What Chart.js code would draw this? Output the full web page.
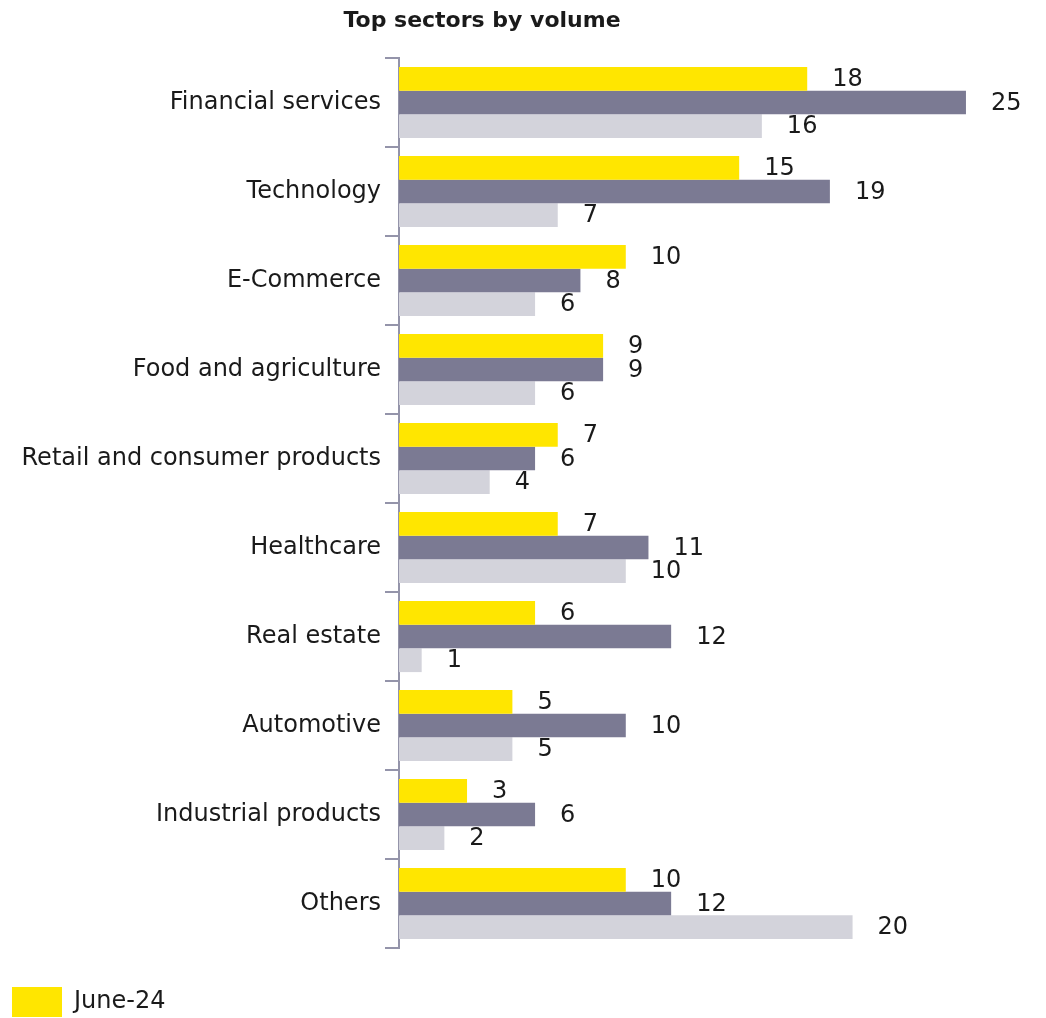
<!DOCTYPE html>
<html>
<head>
<meta charset="utf-8">
<script src="https://cdn.jsdelivr.net/npm/chart.js@4/dist/chart.umd.min.js"></script>
<style>
  body { margin: 0; background: #fff; }
  canvas { display: block; }
</style>
</head>
<body>
<canvas id="barChart" width="1046" height="1018"></canvas>
<script>
// Datos del gráfico
const sectors = [
  "Financial services", "Technology", "E-Commerce", "Food and agriculture",
  "Retail and consumer products", "Healthcare", "Real estate", "Automotive",
  "Industrial products", "Others"
];
const june24 = [18, 15, 10, 9, 7, 7, 6, 5, 3, 10];
const dec23 = [25, 19, 8, 9, 6, 11, 12, 10, 6, 12];
const june23 = [16, 7, 6, 6, 4, 10, 1, 5, 2, 20];
const seriesNames = ["June-24", "Dec-23", "June-23"];
const chartTitle = "Top sectors by volume";

const FONT = "'DejaVu Sans', sans-serif";
const TEXT = "#1a1a1a";
const AXIS = "#9494aa";

// Etiquetas de valor al final de cada barra
const valueLabels = {
  id: "valueLabels",
  afterDatasetsDraw(chart) {
    const { ctx } = chart;
    ctx.save();
    ctx.font = "24px " + FONT;
    ctx.fillStyle = TEXT;
    ctx.textAlign = "left";
    ctx.textBaseline = "middle";
    chart.data.datasets.forEach((ds, i) => {
      chart.getDatasetMeta(i).data.forEach((bar, j) => {
        ctx.fillText(ds.data[j], bar.x + 25, bar.y + 1);
      });
    });
    ctx.restore();
  }
};

// Título (alineado como en el original, no centrado en el lienzo)
const titleText = {
  id: "titleText",
  afterDraw(chart) {
    const { ctx } = chart;
    ctx.save();
    ctx.font = "bold 22px " + FONT;
    ctx.fillStyle = TEXT;
    ctx.textAlign = "center";
    ctx.textBaseline = "middle";
    ctx.fillText(chartTitle, 482, 21);
    ctx.restore();
  }
};

// Altura fija de la leyenda para dejar el hueco bajo el eje
const legendHeight = {
  id: "legendHeight",
  beforeInit(chart) {
    const fit = chart.legend.fit;
    chart.legend.fit = function () {
      fit.call(this);
      this.height = 43;
    };
  }
};

new Chart(document.getElementById("barChart"), {
  type: "bar",
  data: {
    labels: sectors,
    datasets: [
      { label: seriesNames[0], data: june24, backgroundColor: "#FFE600" },
      { label: seriesNames[1], data: dec23, backgroundColor: "#7B7A93" },
      { label: seriesNames[2], data: june23, backgroundColor: "#D3D3DB" }
    ]
  },
  options: {
    indexAxis: "y",
    responsive: false,
    animation: false,
    layout: { padding: { top: 58, right: 12, left: 0, bottom: 0 } },
    datasets: { bar: { categoryPercentage: 0.8, barPercentage: 1 } },
    plugins: {
      legend: {
        position: "bottom",
        align: "start",
        labels: {
          boxWidth: 50,
          boxHeight: 30,
          padding: 12,
          color: TEXT,
          font: { family: FONT, size: 24 },
          filter: item => item.datasetIndex === 0
        }
      },
      title: { display: false },
      tooltip: { enabled: false }
    },
    scales: {
      x: {
        min: 0,
        max: 28,
        ticks: { display: false },
        grid: { display: false },
        border: { display: false },
        afterFit: s => { s.height = 27; }
      },
      y: {
        ticks: { color: TEXT, padding: 4, font: { family: FONT, size: 24 } },
        grid: {
          offset: true,
          drawOnChartArea: false,
          drawTicks: true,
          tickLength: 14,
          color: AXIS,
          lineWidth: 2
        },
        border: { color: AXIS, width: 2 },
        afterFit: s => { s.width = 399; }
      }
    }
  },
  plugins: [valueLabels, titleText, legendHeight]
});
</script>
</body>
</html>
